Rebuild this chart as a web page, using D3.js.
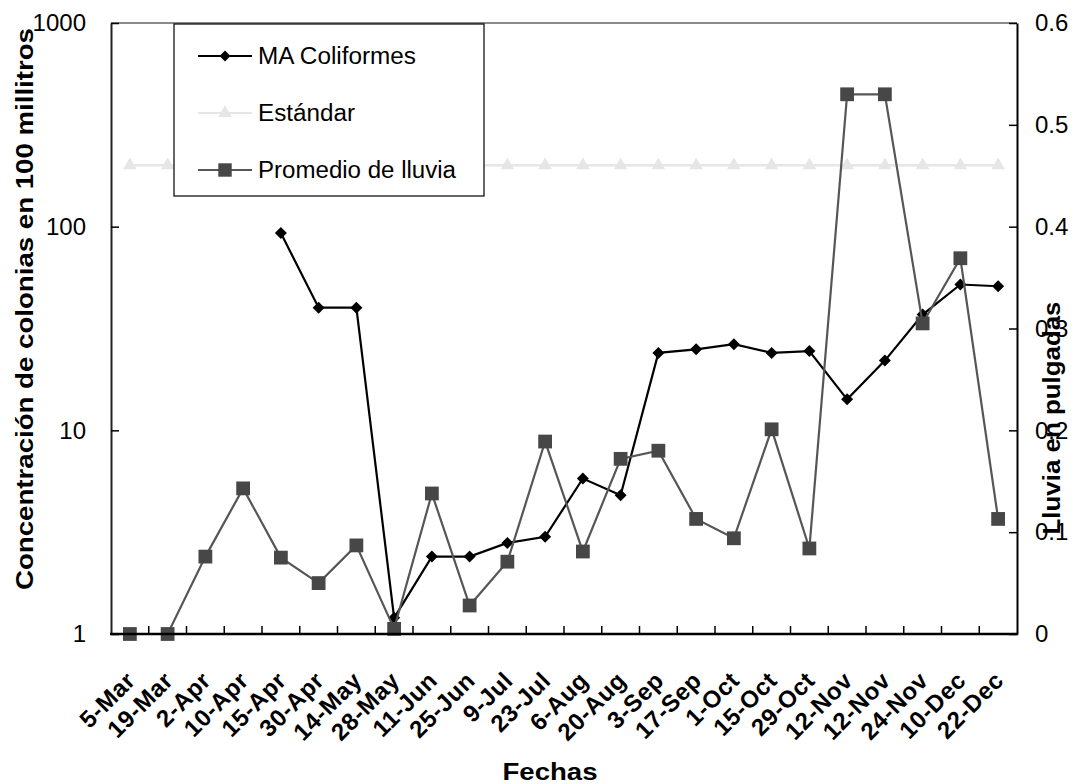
<!DOCTYPE html>
<html>
<head>
<meta charset="utf-8">
<script src="https://cdn.jsdelivr.net/npm/d3@7"></script>
<style>
  html, body { margin: 0; padding: 0; background: #fff; }
  svg { display: block; font-family: Arial, "Liberation Sans", sans-serif; }
</style>
</head>
<body>
<svg id="chart" width="1081" height="784"></svg>
<script>
// Sampling dates (two samples were taken on 12-Nov)
const categories = ["5-Mar","19-Mar","2-Apr","10-Apr","15-Apr","30-Apr","14-May","28-May",
  "11-Jun","25-Jun","9-Jul","23-Jul","6-Aug","20-Aug","3-Sep","17-Sep","1-Oct","15-Oct",
  "29-Oct","12-Nov","12-Nov","24-Nov","10-Dec","22-Dec"];

// Moving-average coliform concentration (colonies / 100 ml); no data before 15-Apr
const coliformes = [null,null,null,null,93,40,40,1.2,2.4,2.4,2.8,3.0,5.8,4.8,
  24,25,26.5,24,24.5,14.2,22,37,52,51];

// Water-quality standard (colonies / 100 ml)
const estandar = [200,200,200,200,200,200,200,200,200,200,200,200,200,200,
  200,200,200,200,200,200,200,200,200,200];

// Average rainfall (inches)
const lluvia = [0,0,0.076,0.143,0.075,0.05,0.087,0.005,0.138,0.028,0.071,0.189,
  0.081,0.172,0.18,0.113,0.094,0.201,0.084,0.53,0.53,0.305,0.369,0.113];

// Axis ticks
const leftTicks = [1,10,100,1000];
const rightTicks = [0,0.1,0.2,0.3,0.4,0.5,0.6];

const legendLabels = ["MA Coliformes","Estándar","Promedio de lluvia"];

const svg = d3.select("#chart");
const plot = { left: 111, right: 1017, top: 23, bottom: 634 };

const x = d3.scaleBand().domain(d3.range(categories.length))
  .range([plot.left, plot.right]).padding(0);
const cx = i => x(i) + x.bandwidth() / 2;
const yL = d3.scaleLog().domain([1, 1000]).range([plot.bottom, plot.top]);
const yR = d3.scaleLinear().domain([0, 0.6]).range([plot.bottom, plot.top]);

const colStd = "#e6e6e6", colRain = "#565656", colRainMark = "#474747";

// Plot frame: gray top edge
svg.append("line").attr("x1", plot.left).attr("x2", plot.right)
  .attr("y1", plot.top).attr("y2", plot.top)
  .attr("stroke", "#8a8a8a").attr("stroke-width", 2);

// Standard series
const stdLine = d3.line().x((d, i) => cx(i)).y(d => yL(d));
svg.append("path").datum(estandar).attr("d", stdLine)
  .attr("fill", "none").attr("stroke", colStd).attr("stroke-width", 2.5);
svg.append("g").selectAll("path").data(estandar).join("path")
  .attr("transform", (d, i) => `translate(${cx(i)},${yL(d)})`)
  .attr("d", d3.symbol(d3.symbolTriangle, 80))
  .attr("fill", colStd);

// Coliform series
const colLine = d3.line().defined(d => d != null).x((d, i) => cx(i)).y(d => yL(d));
svg.append("path").datum(coliformes).attr("d", colLine)
  .attr("fill", "none").attr("stroke", "#000").attr("stroke-width", 2.2);
svg.append("g").selectAll("path")
  .data(coliformes.map((v, i) => ({ v, i })).filter(d => d.v != null))
  .join("path")
  .attr("transform", d => `translate(${cx(d.i)},${yL(d.v)}) rotate(45)`)
  .attr("d", d3.symbol(d3.symbolSquare, 72))
  .attr("fill", "#000");

// Rainfall series (secondary axis)
const rainLine = d3.line().x((d, i) => cx(i)).y(d => yR(d));
svg.append("path").datum(lluvia).attr("d", rainLine)
  .attr("fill", "none").attr("stroke", colRain).attr("stroke-width", 2.2);
svg.append("g").selectAll("path").data(lluvia).join("path")
  .attr("transform", (d, i) => `translate(${cx(i)},${yR(d)})`)
  .attr("d", d3.symbol(d3.symbolSquare, 190))
  .attr("fill", colRainMark);

// Left log axis
const gL = svg.append("g").attr("transform", `translate(${plot.left},0)`)
  .call(d3.axisLeft(yL).tickValues(leftTicks).tickFormat(d3.format("d"))
    .tickSizeInner(-8).tickSizeOuter(0).tickPadding(25));
gL.select(".domain").attr("stroke", "#222").attr("stroke-width", 2);
gL.selectAll(".tick line").attr("stroke", "#000").attr("stroke-width", 1.5);
gL.selectAll(".tick text").attr("font-size", 24).attr("fill", "#000")
  .attr("font-family", "Arial, 'Liberation Sans', sans-serif");

// Right linear axis
const gR = svg.append("g").attr("transform", `translate(${plot.right},0)`)
  .call(d3.axisRight(yR).tickValues(rightTicks)
    .tickFormat(d => d === 0 ? "0" : d3.format(".1f")(d))
    .tickSizeInner(-8).tickSizeOuter(0).tickPadding(18));
gR.select(".domain").attr("stroke", "#000").attr("stroke-width", 2);
gR.selectAll(".tick line").attr("stroke", "#000").attr("stroke-width", 1.5);
gR.selectAll(".tick text").attr("font-size", 24).attr("fill", "#000")
  .attr("font-family", "Arial, 'Liberation Sans', sans-serif");

// Bottom category axis: ticks on band boundaries, labels slanted
const gB = svg.append("g").attr("transform", `translate(0,${plot.bottom})`)
  .call(d3.axisBottom(x).tickFormat(i => categories[i]).tickSize(0));
gB.select(".domain").remove();
gB.selectAll(".tick text")
  .attr("x", 0).attr("y", 0).attr("dy", 0)
  .attr("text-anchor", "end")
  .attr("transform", "translate(7,48) rotate(-45)")
  .attr("font-size", 24).attr("font-weight", "bold").attr("fill", "#000")
  .attr("letter-spacing", 0.6)
  .attr("font-family", "Arial, 'Liberation Sans', sans-serif");
svg.append("g").selectAll("line").data(d3.range(1, categories.length)).join("line")
  .attr("x1", i => x(i)).attr("x2", i => x(i))
  .attr("y1", plot.bottom).attr("y2", plot.bottom - 8)
  .attr("stroke", "#000").attr("stroke-width", 1.5);
svg.append("line").attr("x1", plot.left - 1).attr("x2", plot.right + 1)
  .attr("y1", plot.bottom).attr("y2", plot.bottom)
  .attr("stroke", "#000").attr("stroke-width", 2.5);

// Legend
const lg = svg.append("g");
lg.append("rect").attr("x", 174).attr("y", 24).attr("width", 310).attr("height", 172)
  .attr("fill", "#fff").attr("stroke", "#000").attr("stroke-width", 1.2);
const legendRows = [
  { label: legendLabels[0], y: 56, stroke: "#000", fill: "#000", sym: d3.symbolSquare, size: 60, rot: 45, len: 158 },
  { label: legendLabels[1], y: 113, stroke: colStd, fill: colStd, sym: d3.symbolTriangle, size: 80, rot: 0, len: 97 },
  { label: legendLabels[2], y: 170, stroke: colRain, fill: colRainMark, sym: d3.symbolSquare, size: 180, rot: 0, len: 198 }
];
legendRows.forEach(r => {
  lg.append("line").attr("x1", 198).attr("x2", 252).attr("y1", r.y).attr("y2", r.y)
    .attr("stroke", r.stroke).attr("stroke-width", 2.2);
  lg.append("path").attr("transform", `translate(225,${r.y}) rotate(${r.rot})`)
    .attr("d", d3.symbol(r.sym, r.size)).attr("fill", r.fill);
  lg.append("text").attr("x", 258).attr("y", r.y).attr("dy", "0.36em")
    .attr("font-size", 23).attr("fill", "#000")
    .attr("textLength", r.len).attr("lengthAdjust", "spacingAndGlyphs")
    .text(r.label);
});

// Axis titles
svg.append("text")
  .attr("transform", "translate(33,309) rotate(-90)")
  .attr("text-anchor", "middle").attr("font-size", 24).attr("font-weight", "bold")
  .attr("textLength", 562).attr("lengthAdjust", "spacingAndGlyphs")
  .text("Concentración de colonias en 100 millitros");
svg.append("text")
  .attr("transform", "translate(1060,418) rotate(-90)")
  .attr("text-anchor", "middle").attr("font-size", 24).attr("font-weight", "bold")
  .attr("textLength", 233).attr("lengthAdjust", "spacingAndGlyphs")
  .text("Lluvia en pulgadas");
svg.append("text")
  .attr("x", 550).attr("y", 780)
  .attr("text-anchor", "middle").attr("font-size", 23).attr("font-weight", "bold")
  .attr("textLength", 95).attr("lengthAdjust", "spacingAndGlyphs")
  .text("Fechas");
</script>
</body>
</html>
